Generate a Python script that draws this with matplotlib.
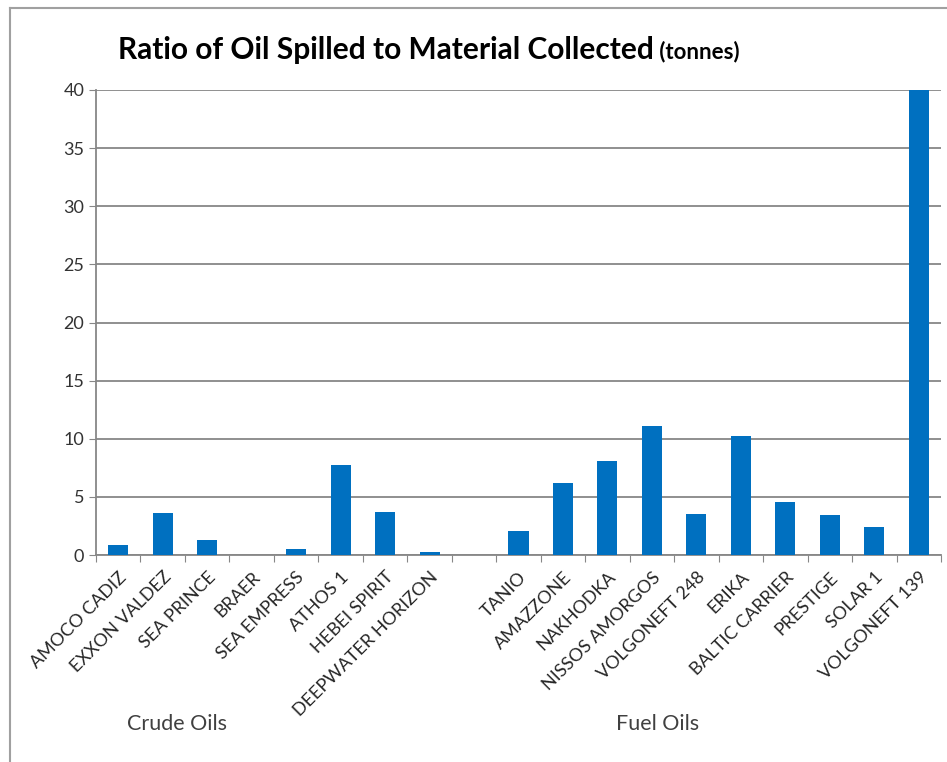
import matplotlib.pyplot as plt
from matplotlib.lines import Line2D

plt.rcParams['font.family'] = ['Lato', 'DejaVu Sans']

# Crude oils, one empty slot, then fuel oils
crude_names = ['AMOCO CADIZ', 'EXXON VALDEZ', 'SEA PRINCE', 'BRAER', 'SEA EMPRESS',
               'ATHOS 1', 'HEBEI SPIRIT', 'DEEPWATER HORIZON']
crude_ratio = [0.85, 3.6, 1.3, 0.0, 0.5, 7.7, 3.7, 0.3]
fuel_names = ['TANIO', 'AMAZZONE', 'NAKHODKA', 'NISSOS AMORGOS', 'VOLGONEFT 248',
              'ERIKA', 'BALTIC CARRIER', 'PRESTIGE', 'SOLAR 1', 'VOLGONEFT 139']
fuel_ratio = [2.1, 6.2, 8.1, 11.1, 3.5, 10.2, 4.6, 3.4, 2.4, 40.0]

labels = crude_names + [''] + fuel_names
values = crude_ratio + [0.0] + fuel_ratio
x = list(range(len(labels)))

fig = plt.figure(figsize=(9.47, 7.62), dpi=100)
ax = fig.add_axes([96 / 947, 1 - 555 / 762, 845 / 947, 465 / 762])

ax.bar(x, values, width=0.45, color='#0070C0', zorder=3)

ax.set_ylim(0, 40)
ax.set_xlim(-0.5, len(labels) - 0.5)
ax.set_yticks(range(0, 41, 5))
ax.yaxis.grid(True, color='#878787', linewidth=1.3, zorder=0)
ax.tick_params(axis='y', length=5, color='#878787', labelsize=13, labelcolor='#333333')

# category ticks sit between bars, labels centred under bars
ax.set_xticks([i - 0.5 for i in range(len(labels) + 1)])
ax.set_xticklabels([])
ax.tick_params(axis='x', length=5, color='#878787')
ax.set_xticks(x, minor=True)
ax.set_xticklabels(labels, minor=True, rotation=45, ha='right', va='top',
                   rotation_mode='anchor', fontsize=13, color='#262626')
ax.tick_params(axis='x', which='minor', length=0, pad=10)

for side in ['top', 'right']:
    ax.spines[side].set_visible(False)
for side in ['left', 'bottom']:
    ax.spines[side].set_color('#878787')
    ax.spines[side].set_linewidth(1.3)

# title with smaller unit part
t = fig.text(118 / 947, 1 - 50 / 762, 'Ratio of Oil Spilled to Material Collected',
             fontsize=21.5, fontweight='bold', va='center', ha='left')
ax.annotate(' (tonnes)', xy=(1, 0.45), xycoords=t, va='center', ha='left',
            fontsize=16, fontweight='bold')

fig.text(177 / 947, 1 - 724 / 762, 'Crude Oils', fontsize=15.5, color='#404040',
         ha='center', va='center')
fig.text(658 / 947, 1 - 724 / 762, 'Fuel Oils', fontsize=15.5, color='#404040',
         ha='center', va='center')

# chart frame
fig.add_artist(Line2D([10 / 947, 10 / 947], [0, 1 - 8 / 762], color='#a0a0a0',
                      linewidth=1.5, transform=fig.transFigure))
fig.add_artist(Line2D([10 / 947, 1], [1 - 8 / 762, 1 - 8 / 762], color='#a0a0a0',
                      linewidth=1.5, transform=fig.transFigure))

fig.savefig('out.png', dpi=100)
